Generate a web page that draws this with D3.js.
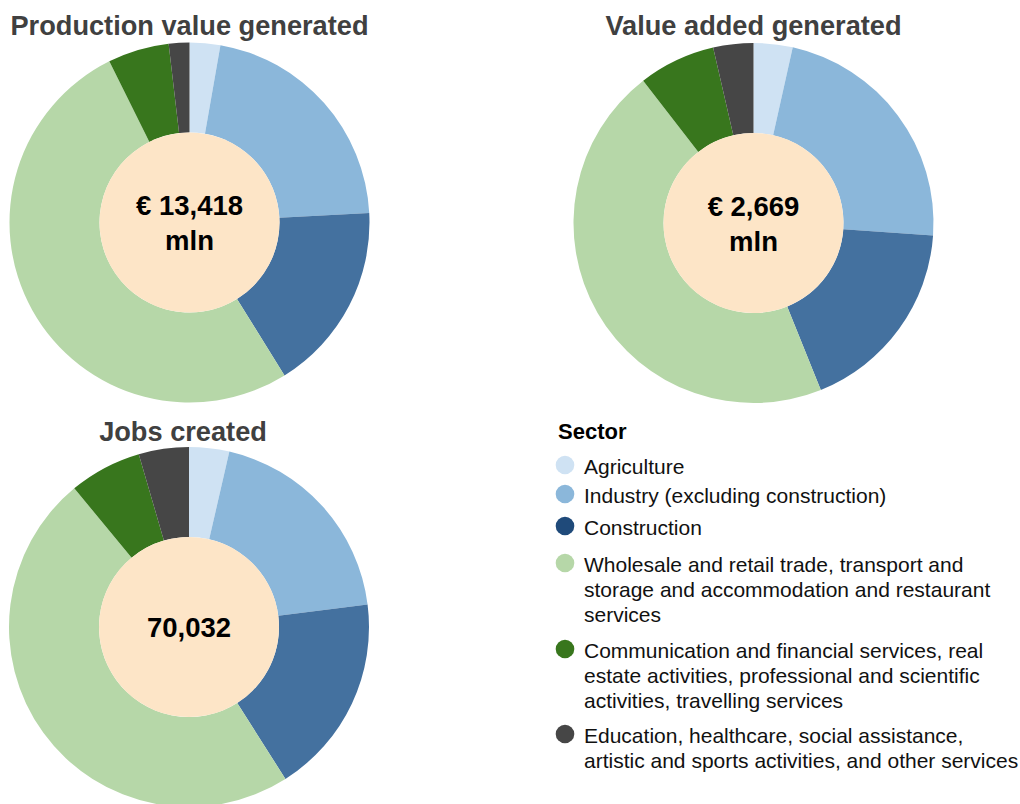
<!DOCTYPE html>
<html>
<head>
<meta charset="utf-8">
<script src="https://cdn.jsdelivr.net/npm/d3@7"></script>
<style>
  html, body { margin: 0; padding: 0; background: #fff; }
  svg { display: block; font-family: "Liberation Sans", Arial, sans-serif; }
</style>
</head>
<body>
<svg id="chart" width="1020" height="804"></svg>
<script>
// Sector order, clockwise from 12 o'clock
const sectors = [
  "Agriculture",
  "Industry (excluding construction)",
  "Construction",
  "Wholesale and retail trade, transport and storage and accommodation and restaurant services",
  "Communication and financial services, real estate activities, professional and scientific activities, travelling services",
  "Education, healthcare, social assistance, artistic and sports activities, and other services"
];
// Legend text, pre-wrapped into lines
const legendLines = [
  ["Agriculture"],
  ["Industry (excluding construction)"],
  ["Construction"],
  ["Wholesale and retail trade, transport and", "storage and accommodation and restaurant", "services"],
  ["Communication and financial services, real", "estate activities, professional and scientific", "activities, travelling services"],
  ["Education, healthcare, social assistance,", "artistic and sports activities, and other services"]
];

// Shares per sector (%)
const productionShares = [2.75, 21.4, 17.0, 51.5, 5.5, 1.85];
const valueAddedShares = [3.5, 22.6, 17.8, 45.6, 6.9, 3.6];
const jobsShares       = [3.6, 19.4, 18.0, 48.0, 6.5, 4.5];

const titles = ["Production value generated", "Value added generated", "Jobs created"];
const totalLabels = [["€ 13,418", "mln"], ["€ 2,669", "mln"], ["70,032"]];

const sliceColors  = ["#cfe2f3", "#8bb7da", "#44719f", "#b6d7a8", "#38761d", "#464646"];
const legendColors = ["#cfe2f3", "#8bb7da", "#1f4a7a", "#b6d7a8", "#38761d", "#464646"];

const svg = d3.select("#chart");

const panels = [
  { shares: productionShares, cx: 189.5, cy: 222.5, titleX: 189.5, titleY: 35 },
  { shares: valueAddedShares, cx: 753.5, cy: 223, titleX: 753.5, titleY: 35 },
  { shares: jobsShares,       cx: 189,   cy: 627, titleX: 183,   titleY: 441 }
];

const outerR = 180, innerR = 90;
const pie = d3.pie().sort(null).value(d => d);
const arc = d3.arc().innerRadius(innerR).outerRadius(outerR);

panels.forEach((p, i) => {
  svg.append("text")
    .attr("x", p.titleX).attr("y", p.titleY)
    .attr("text-anchor", "middle")
    .attr("font-size", 27.2).attr("font-weight", "bold")
    .attr("fill", "#404040")
    .text(titles[i]);

  const g = svg.append("g").attr("transform", `translate(${p.cx},${p.cy})`);
  g.selectAll("path.slice")
    .data(pie(p.shares))
    .join("path")
    .attr("class", "slice")
    .attr("d", arc)
    .attr("fill", (d, j) => sliceColors[j]);

  g.append("circle").attr("r", innerR).attr("fill", "#fde5c7");

  const lines = totalLabels[i];
  const lh = 35;
  const y0 = -(lines.length - 1) * lh / 2 + 10;
  lines.forEach((t, k) => {
    g.append("text")
      .attr("x", 0).attr("y", y0 + k * lh)
      .attr("text-anchor", "middle")
      .attr("font-size", 27.5).attr("font-weight", "bold")
      .attr("fill", "#000")
      .text(t);
  });
});

// Legend
const legend = svg.append("g");
legend.append("text")
  .attr("x", 558).attr("y", 439)
  .attr("font-size", 22).attr("font-weight", "bold").attr("fill", "#000")
  .text("Sector");

const entryBaselines = [474, 503, 535, 572, 658, 743];
const lineH = 25;
legendLines.forEach((lines, i) => {
  const by = entryBaselines[i];
  legend.append("circle")
    .attr("cx", 565).attr("cy", by - 9).attr("r", 9.3)
    .attr("fill", legendColors[i]);
  const t = legend.append("text")
    .attr("x", 584).attr("y", by)
    .attr("font-size", 21).attr("fill", "#111");
  lines.forEach((ln, k) => {
    t.append("tspan").attr("x", 584).attr("y", by + k * lineH).text(ln);
  });
});
</script>
</body>
</html>
